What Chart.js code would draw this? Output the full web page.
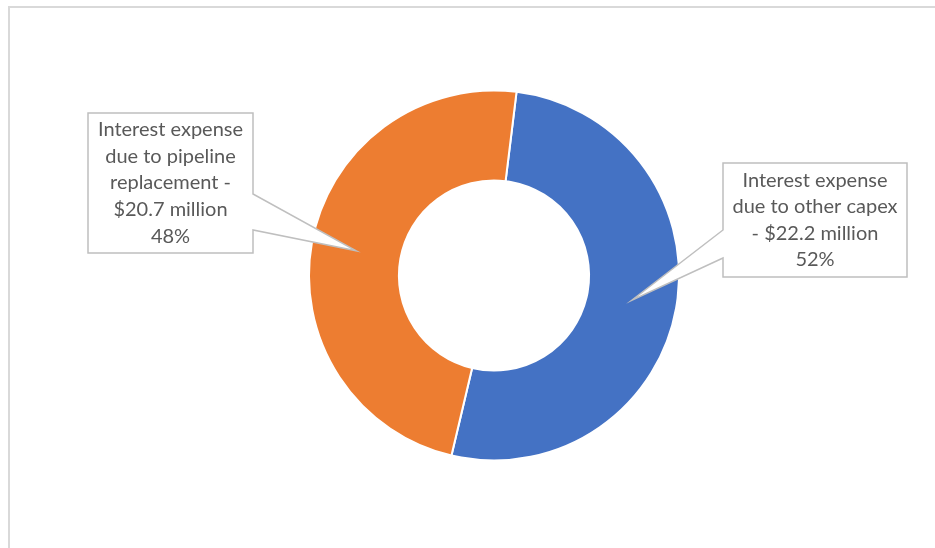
<!DOCTYPE html>
<html>
<head>
<meta charset="utf-8">
<script src="https://cdn.jsdelivr.net/npm/chart.js@4"></script>
<style>
  html, body { margin: 0; padding: 0; background: #fff; }
  #wrap { width: 935px; height: 548px; position: relative; }
</style>
</head>
<body>
<div id="wrap"><canvas id="interestChart"></canvas></div>
<script>
const categories = ['Interest expense due to other capex', 'Interest expense due to pipeline replacement'];
const amounts = [22.2, 20.7];
const percentLabels = ['52%', '48%'];
const sliceColors = ['#4472C4', '#ED7D31'];

const calloutLines = [
    ['Interest expense', 'due to other capex', '- $22.2 million', '52%'],
    ['Interest expense', 'due to pipeline', 'replacement -', '$20.7 million', '48%']
];

// box + pointer base (where the wedge leaves the box)
const callouts = [
    { x: 723, y: 163, w: 184, h: 114, side: 'left', base: [67, 95] },
    { x: 88, y: 113, w: 165, h: 140, side: 'right', base: [81, 117] }
];

const calloutPlugin = {
    id: 'callouts',
    beforeDraw(chart) {
        const c = chart.ctx;
        c.save();
        c.strokeStyle = '#d9d9d9';
        c.lineWidth = 2;
        c.strokeRect(9, 7, 960, 600);
        c.restore();
    },
    afterDraw(chart) {
        const c = chart.ctx;
        const arcs = chart.getDatasetMeta(0).data;
        c.save();
        callouts.forEach((b, i) => {
            const tip = arcs[i].getCenterPoint();
            c.beginPath();
            if (b.side === 'left') {
                c.moveTo(b.x, b.y);
                c.lineTo(b.x + b.w, b.y);
                c.lineTo(b.x + b.w, b.y + b.h);
                c.lineTo(b.x, b.y + b.h);
                c.lineTo(b.x, b.y + b.base[1]);
                c.lineTo(tip.x, tip.y);
                c.lineTo(b.x, b.y + b.base[0]);
            } else {
                c.moveTo(b.x, b.y);
                c.lineTo(b.x + b.w, b.y);
                c.lineTo(b.x + b.w, b.y + b.base[0]);
                c.lineTo(tip.x, tip.y);
                c.lineTo(b.x + b.w, b.y + b.base[1]);
                c.lineTo(b.x + b.w, b.y + b.h);
                c.lineTo(b.x, b.y + b.h);
            }
            c.closePath();
            c.fillStyle = '#ffffff';
            c.fill();
            c.strokeStyle = '#bfbfbf';
            c.lineWidth = 1.5;
            c.stroke();

            c.fillStyle = '#595959';
            c.font = '20px Lato, "Open Sans", sans-serif';
            c.textAlign = 'center';
            c.textBaseline = 'middle';
            const lines = calloutLines[i];
            const cx = b.x + b.w / 2;
            const step = 26.6;
            const y0 = b.y + b.h / 2 - step * (lines.length - 1) / 2;
            lines.forEach((t, k) => c.fillText(t, cx, y0 + k * step));
        });
        c.restore();
    }
};

new Chart(document.getElementById('interestChart'), {
    type: 'doughnut',
    data: {
        labels: categories,
        datasets: [{
            data: amounts,
            backgroundColor: sliceColors,
            borderColor: '#ffffff',
            borderWidth: 2
        }]
    },
    options: {
        responsive: true,
        maintainAspectRatio: false,
        animation: false,
        rotation: 7,
        radius: 185,
        cutout: '51.4%',
        layout: { padding: { left: 53, right: 0, top: 3, bottom: 0 } },
        plugins: {
            legend: { display: false },
            tooltip: { enabled: false }
        }
    },
    plugins: [calloutPlugin]
});
</script>
</body>
</html>
